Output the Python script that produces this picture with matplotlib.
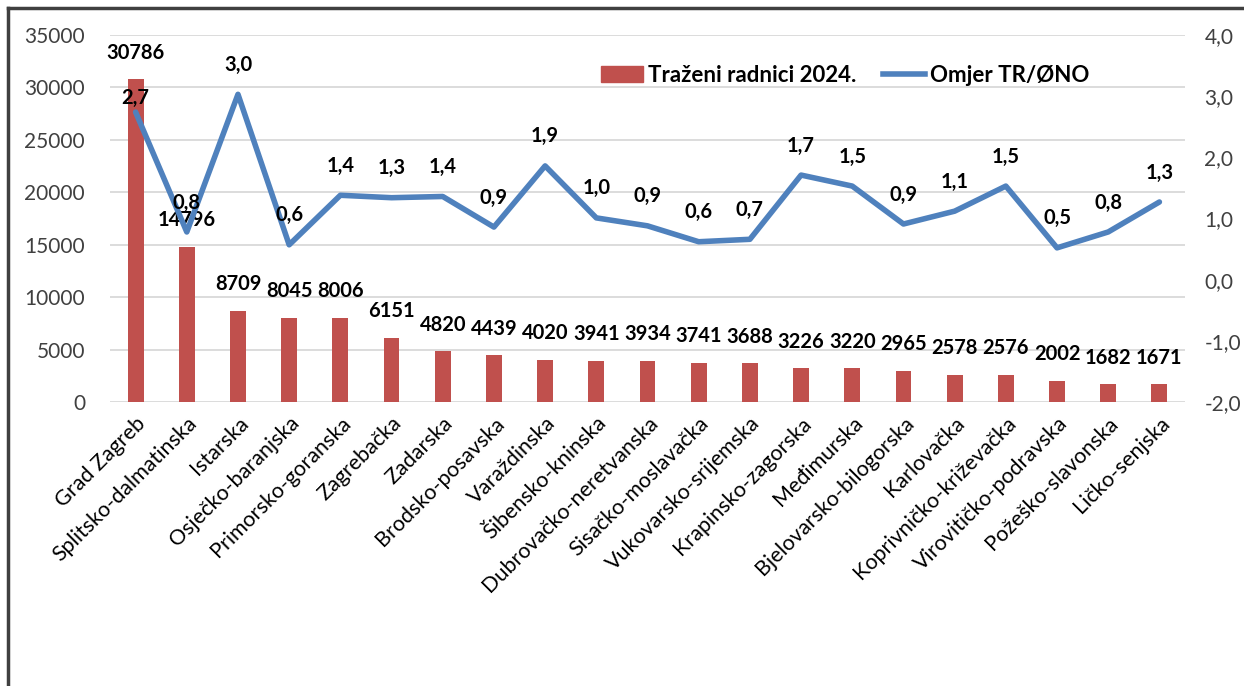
import matplotlib.pyplot as plt
import numpy as np
from matplotlib.lines import Line2D
from matplotlib.patches import Patch

plt.rcParams['font.family'] = ['Lato', 'DejaVu Sans']

# podaci
zupanije = ['Grad Zagreb', 'Splitsko-dalmatinska', 'Istarska', 'Osječko-baranjska',
            'Primorsko-goranska', 'Zagrebačka', 'Zadarska', 'Brodsko-posavska',
            'Varaždinska', 'Šibensko-kninska', 'Dubrovačko-neretvanska',
            'Sisačko-moslavačka', 'Vukovarsko-srijemska', 'Krapinsko-zagorska',
            'Međimurska', 'Bjelovarsko-bilogorska', 'Karlovačka',
            'Koprivničko-križevačka', 'Virovitičko-podravska', 'Požeško-slavonska',
            'Ličko-senjska']
trazeni = [30786, 14796, 8709, 8045, 8006, 6151, 4820, 4439, 4020, 3941, 3934,
           3741, 3688, 3226, 3220, 2965, 2578, 2576, 2002, 1682, 1671]
omjer = [2.74, 0.78, 3.03, 0.57, 1.38, 1.34, 1.36, 0.86, 1.86, 1.01, 0.88,
         0.62, 0.66, 1.71, 1.53, 0.91, 1.12, 1.53, 0.52, 0.78, 1.27]
lijeve_oznake = [0, 5000, 10000, 15000, 20000, 25000, 30000, 35000]
desne_oznake = [-2.0, -1.0, 0.0, 1.0, 2.0, 3.0, 4.0]

crvena = '#C0504D'
plava = '#4F81BD'

fig = plt.figure(figsize=(12.44, 6.86), dpi=100)
ax = fig.add_axes([110 / 1244, 1 - 402 / 686, 1075 / 1244, 367 / 686])
ax2 = ax.twinx()

x = np.arange(len(zupanije))
ax.bar(x, trazeni, width=0.31, color=crvena, zorder=2)
for xi, v in zip(x, trazeni):
    ax.annotate(str(v), (xi, v), xytext=(0, 12), textcoords='offset points',
                ha='center', va='bottom', fontsize=14.5, fontweight='bold')

ax.set_ylim(0, 35000)
ax.set_xlim(-0.5, len(zupanije) - 0.5)
ax.set_yticks(lijeve_oznake)
ax.set_yticklabels([str(t) for t in lijeve_oznake], fontsize=15, color='#404040')
ax.yaxis.grid(True, color='#D9D9D9', linewidth=1.3, zorder=0)
ax.set_axisbelow(True)
ax.set_xticks(x)
ax.set_xticklabels(zupanije, rotation=45, ha='right', rotation_mode='anchor',
                   fontsize=15.5)
ax.tick_params(length=0, pad=8)
ax.tick_params(axis='y', pad=18)
for s in ax.spines.values():
    s.set_visible(False)

ax2.plot(x, omjer, color=plava, linewidth=4, solid_capstyle='round', zorder=3)
for i, (xi, v) in enumerate(zip(x, omjer)):
    dy = 3 if i == 0 else 14
    ax2.annotate(f'{v:.1f}'.replace('.', ','), (xi, v), xytext=(0, dy),
                 textcoords='offset points', ha='center', va='bottom',
                 fontsize=14.5, fontweight='bold')
ax2.set_ylim(-2, 4)
ax2.set_yticks(desne_oznake)
ax2.set_yticklabels([f'{t:.1f}'.replace('.', ',') for t in desne_oznake],
                    fontsize=15, color='#404040')
ax2.tick_params(length=0, pad=14)
for s in ax2.spines.values():
    s.set_visible(False)

# legenda
handles = [Patch(color=crvena), Line2D([], [], color=plava, linewidth=4)]
fig.legend(handles, ['Traženi radnici 2024.', 'Omjer TR/ØNO'], ncol=2,
           frameon=False, loc='center', bbox_to_anchor=(845 / 1244, 1 - 75 / 686),
           prop={'size': 16, 'weight': 'bold'}, handlelength=1.9,
           handletextpad=0.2, columnspacing=1.2)

# okvir
fig.add_artist(Line2D([8 / 1244, 8 / 1244], [0, 1 - 8 / 686], color='#404040',
                      linewidth=2.5, transform=fig.transFigure))
fig.add_artist(Line2D([8 / 1244, 1], [1 - 8 / 686, 1 - 8 / 686], color='#404040',
                      linewidth=2.5, transform=fig.transFigure))

fig.savefig('out.png', dpi=100)
